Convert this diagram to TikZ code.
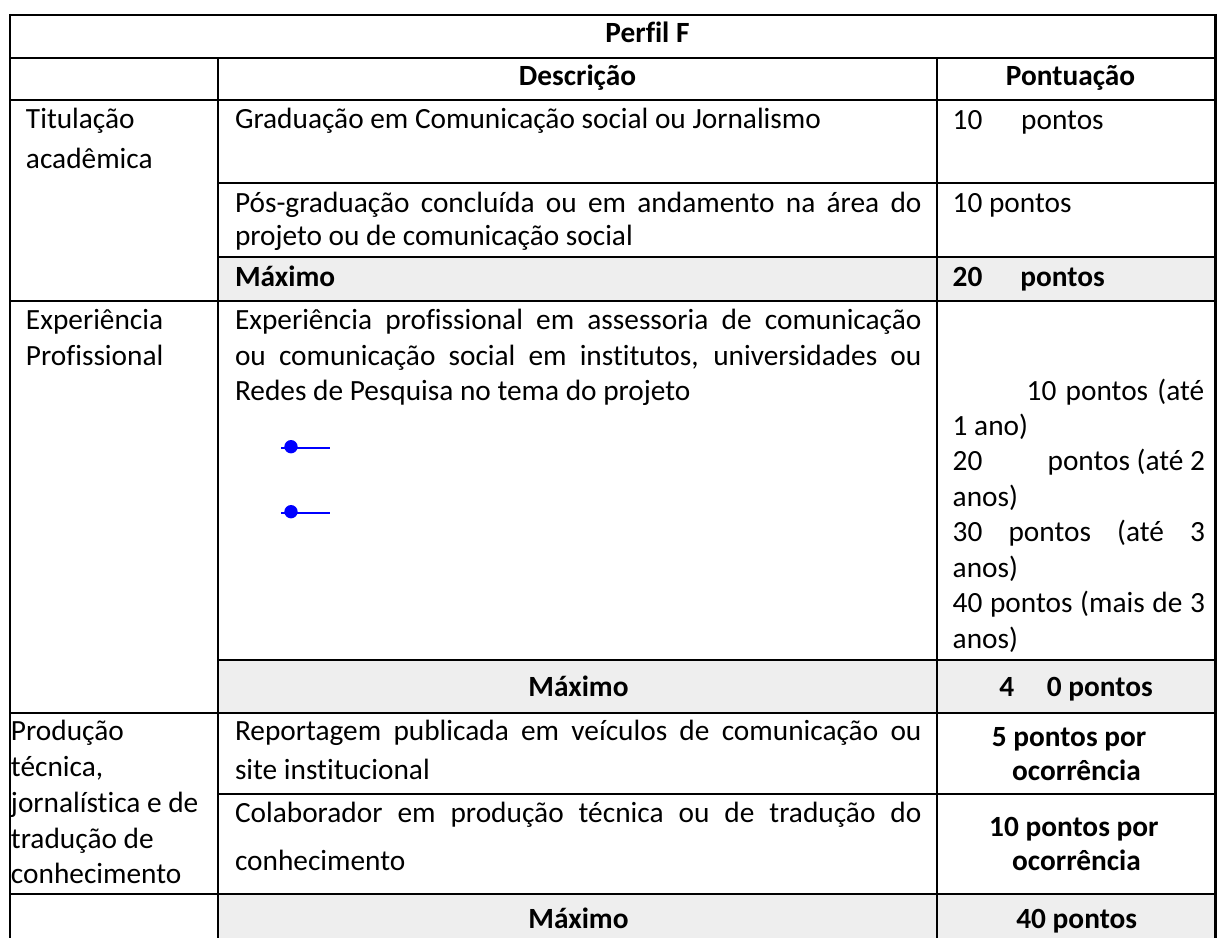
\documentclass[tikz,border=0pt]{standalone}
\usepackage{fontspec}
\setmainfont{Carlito}[Ligatures=CommonOff]
\definecolor{cellgray}{HTML}{EEEEEE}
\definecolor{bulletblue}{HTML}{0000FF}
\newcommand{\pxw}[1]{\dimexpr #1pt*3/4\relax}
\newcommand{\cellfont}{\fontsize{22pt}{26pt}\selectfont}
\tikzset{
  txt/.style={inner sep=0pt, outer sep=0pt, anchor=base west, font=\cellfont, text=black},
  btxt/.style={txt, font=\cellfont\bfseries},
  ctxt/.style={txt, anchor=base},
  cbtxt/.style={btxt, anchor=base},
  rule/.style={line width=1.6pt, black},
  bulletdot/.style={circle, fill=bulletblue, inner sep=0pt, minimum size=10pt},
  bulletline/.style={line width=1.5pt, bulletblue},
  grayfill/.style={fill=cellgray, draw=none}
}
\begin{document}
\begin{tikzpicture}[x=0.75pt,y=-0.75pt]
\useasboundingbox (0,0) rectangle (1217,938);
% gray backgrounds
\fill[cellgray] (218,257) rectangle (1217,301);
\fill[cellgray] (218,660) rectangle (1217,713);
\fill[cellgray] (218,894) rectangle (1217,938);
% grid lines
\draw[rule] (10,15) -- (1215.5,15);
\draw[rule] (10,14) -- (10,938);
\draw[rule] (1215.5,14) -- (1215.5,938);
\draw[rule] (10,58) -- (1215.5,58);
\draw[rule] (10,100) -- (1215.5,100);
\draw[rule] (218,58) -- (218,938);
\draw[rule] (937,58) -- (937,938);
\draw[rule] (218,183) -- (1215.5,183);
\draw[rule] (218,257) -- (1215.5,257);
\draw[rule] (10,301) -- (1215.5,301);
\draw[rule] (218,660) -- (1215.5,660);
\draw[rule] (10,713) -- (1215.5,713);
\draw[rule] (218,794) -- (1215.5,794);
\draw[rule] (10,894) -- (1215.5,894);

% header
\node[cbtxt] (title) at (647.5,43) {Perfil F};
\node[cbtxt] (hdesc) at (577.5,86) {Descrição};
\node[cbtxt] (hpont) at (1070.5,86) {Pontuação};

% Titulação
\node[txt] (tit1) at (26,129) {Titulação};
\node[txt] (tit2) at (26,169) {acadêmica};
\node[txt] (grad) at (235,129) {Graduação em Comunicação social ou Jornalismo};
\node[txt] (gradp) at (952.7,130) {\makebox[\pxw{151}][s]{10\hfill pontos}};
\node[txt] (pos1) at (235,212) {\makebox[\pxw{686.5}][s]{Pós-graduação concluída ou em andamento na área do}};
\node[txt] (pos2) at (235,245) {projeto ou de comunicação social};
\node[txt] (posp) at (952.7,212) {10 pontos};
\node[btxt] (max1) at (235,286) {Máximo};
\node[btxt] (max1p) at (952.7,286) {\makebox[\pxw{152}][s]{20\hfill pontos}};

% Experiência
\node[txt] (exp1) at (26,329) {Experiência};
\node[txt] (exp2) at (26,365) {Profissional};
\node[txt] (expd1) at (235,329) {\makebox[\pxw{686.5}][s]{Experiência profissional em assessoria de comunicação}};
\node[txt] (expd2) at (235,365) {\makebox[\pxw{686.5}][s]{ou comunicação social em institutos, universidades ou}};
\node[txt] (expd3) at (235,400) {Redes de Pesquisa no tema do projeto};
% bullets
\node[bulletdot] (bd1) at (291,446.7) {};
\coordinate (bl1a) at (281,448.3);
\coordinate (bl1b) at (330,448.3);
\draw[bulletline] (bl1a) -- (bl1b);
\node[bulletdot] (bd2) at (291,511.7) {};
\coordinate (bl2a) at (281,513.3);
\coordinate (bl2b) at (330,513.3);
\draw[bulletline] (bl2a) -- (bl2b);

\node[txt] (ep1) at (1026.7,400) {\makebox[\pxw{177.5}][s]{10 pontos (até}};
\node[txt] (ep2) at (952.7,435.4) {1 ano)};
\node[txt] (ep3) at (952.7,470.9) {\makebox[\pxw{252.3}][s]{20\hfill pontos (até 2}};
\node[txt] (ep4) at (952.7,506.3) {anos)};
\node[txt] (ep5) at (952.7,541.7) {\makebox[\pxw{252.3}][s]{30 pontos (até 3}};
\node[txt] (ep6) at (952.7,577) {anos)};
\node[txt] (ep7) at (952.7,612.6) {\makebox[\pxw{252.3}][s]{40 pontos (mais de 3}};
\node[txt] (ep8) at (952.7,648) {anos)};
\node[cbtxt] (max2) at (578.5,696) {Máximo};
\node[cbtxt] (max2p) at (1076,696) {\makebox[\pxw{153.4}][s]{4\hfill 0 pontos}};

% Produção
\node[txt] (pr1) at (11,740) {Produção};
\node[txt] (pr2) at (11,776) {técnica,};
\node[txt] (pr3) at (11,812) {jornalística e de};
\node[txt] (pr4) at (11,848) {tradução de};
\node[txt] (pr5) at (11,883.5) {conhecimento};
\node[txt] (rep1) at (235,740) {\makebox[\pxw{686.5}][s]{Reportagem publicada em veículos de comunicação ou}};
\node[txt] (rep2) at (235,779) {site institucional};
\node[cbtxt] (repp1) at (1069,746) {5 pontos por};
\node[cbtxt] (repp2) at (1076.5,780) {ocorrência};
\node[txt] (col1) at (235,822) {\makebox[\pxw{686.5}][s]{Colaborador em produção técnica ou de tradução do}};
\node[txt] (col2) at (235,870.5) {conhecimento};
\node[cbtxt] (colp1) at (1073.8,836.7) {10 pontos por};
\node[cbtxt] (colp2) at (1076.5,870.7) {ocorrência};
\node[cbtxt] (max3) at (578.5,928) {Máximo};
\node[cbtxt] (max3p) at (1076.7,928) {40 pontos};
\end{tikzpicture}
\end{document}
